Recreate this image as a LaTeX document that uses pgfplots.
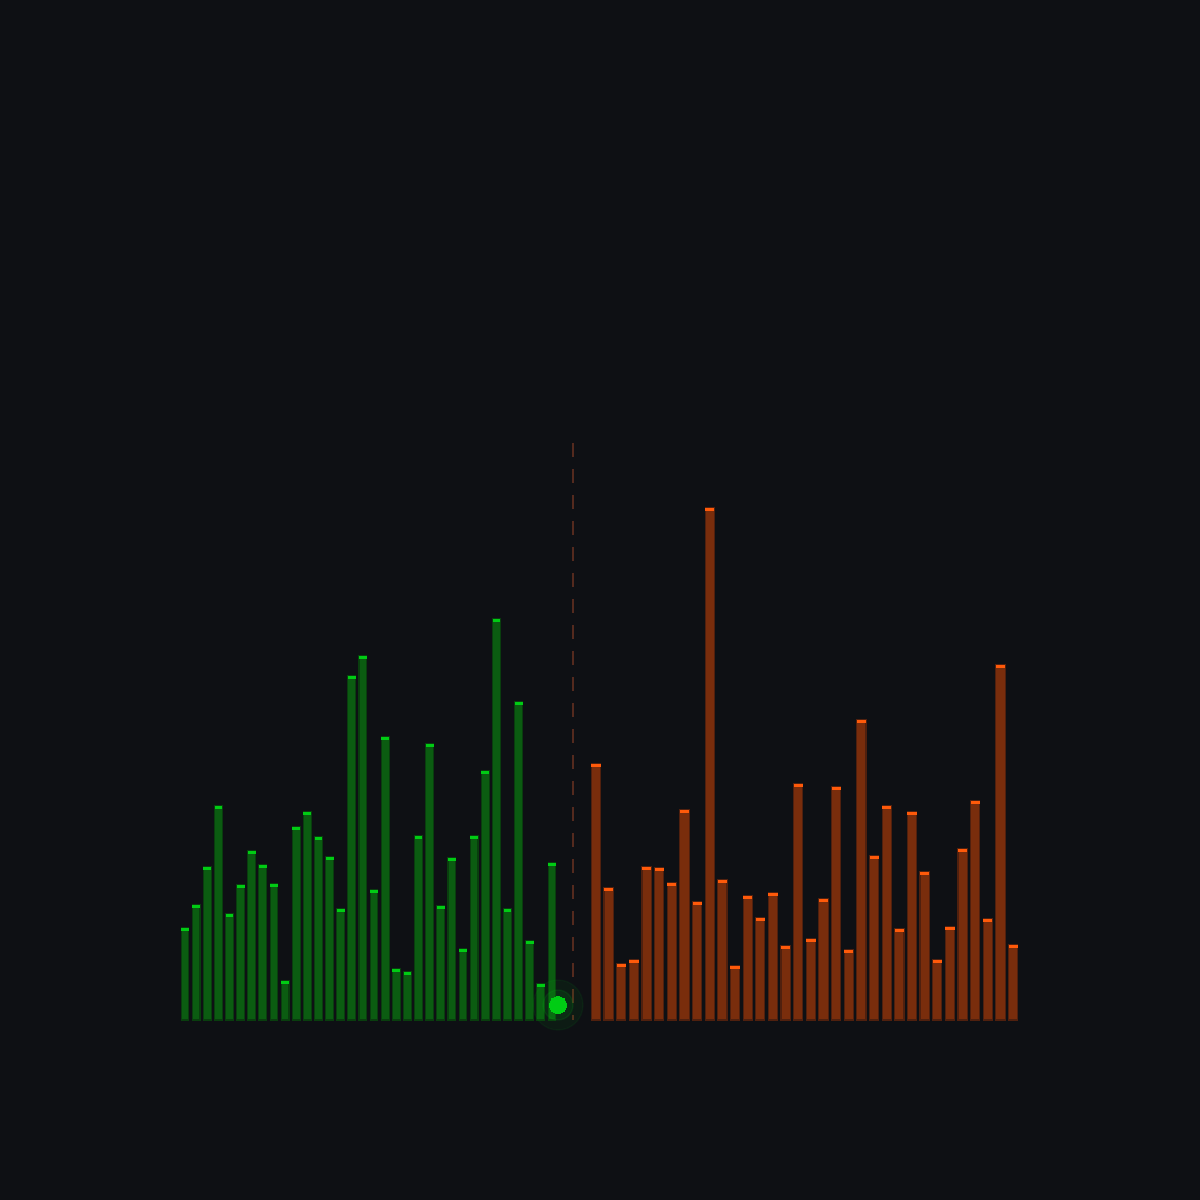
\documentclass[border=0pt]{standalone}
\usepackage{pgfplots}
\usepackage{pgfplotstable}
\pgfplotsset{compat=1.18}

\definecolor{bg}{RGB}{14,16,20}
\definecolor{gfill}{RGB}{11,92,17}
\definecolor{gedge}{RGB}{9,62,14}
\definecolor{gcap}{RGB}{0,204,20}
\definecolor{ofill}{RGB}{121,45,12}
\definecolor{oedge}{RGB}{80,32,14}
\definecolor{ocap}{RGB}{255,90,10}
\definecolor{midline}{RGB}{84,42,30}

% bids: position, size
\pgfplotstableread{
x h
185.0 9.2
196.1 11.5
207.2 15.3
218.4 21.4
229.5 10.6
240.6 13.5
251.7 16.9
262.8 15.5
274.0 13.6
285.1 3.9
296.2 19.3
307.3 20.8
318.4 18.3
329.6 16.3
340.7 11.1
351.8 34.4
362.9 36.4
374.0 13.0
385.2 28.3
396.3 5.1
407.4 4.8
418.5 18.4
429.6 27.6
440.8 11.4
451.9 16.2
463.0 7.1
474.1 18.4
485.2 24.9
496.4 40.1
507.5 11.1
518.6 31.8
529.7 7.9
540.8 3.6
552.0 15.7
}\bids

% asks: position, size
\pgfplotstableread{
x h
596.0 25.6
608.6 13.2
621.3 5.6
633.9 6.0
646.6 15.3
659.2 15.2
671.8 13.7
684.5 21.0
697.1 11.8
709.8 51.2
722.4 14.0
735.0 5.4
747.7 12.4
760.3 10.2
773.0 12.7
785.6 7.4
798.2 23.6
810.9 8.1
823.5 12.1
836.2 23.3
848.8 7.0
861.4 30.0
874.1 16.4
886.7 21.4
899.4 9.1
912.0 20.8
924.6 14.8
937.3 6.0
949.9 9.3
962.6 17.1
975.2 21.9
987.8 10.1
1000.5 35.5
1013.1 7.5
}\asks

\begin{document}
\begin{tikzpicture}
\path[fill=bg, use as bounding box] (0,0) rectangle (12cm,12cm);
\begin{axis}[
    at={(0,0)}, anchor=south west,
    scale only axis, width=12cm, height=12cm,
    xmin=0, xmax=1200, ymin=-18, ymax=102,
    hide axis, clip=false,
    ]
    % bid bars
    \addplot[ybar, bar width=7.8, bar shift=0pt, fill=gfill, draw=gedge, line width=0.3pt]
        table[x=x, y=h] {\bids};
    \addplot[only marks, mark=-, mark size=0.039cm,
        mark options={draw=gcap, line width=0.03cm, yshift=-0.015cm}]
        table[x=x, y=h] {\bids};
    % ask bars
    \addplot[ybar, bar width=9.2, bar shift=0pt, fill=ofill, draw=oedge, line width=0.3pt]
        table[x=x, y=h] {\asks};
    \addplot[only marks, mark=-, mark size=0.046cm,
        mark options={draw=ocap, line width=0.03cm, yshift=-0.015cm}]
        table[x=x, y=h] {\asks};
    % glow round the last price
    \addplot[gcap, only marks, mark=*, mark size=0.25cm,
        mark options={fill=gcap, draw=none, opacity=0.06}] coordinates {(558,1.5)};
    \addplot[gcap, only marks, mark=*, mark size=0.15cm,
        mark options={fill=gcap, draw=none, opacity=0.10}] coordinates {(558,1.5)};
    % mid line
    \addplot[midline, line width=0.3pt, dash pattern=on 0.14cm off 0.12cm]
        coordinates {(573,57.7) (573,0)};
    \addplot[gcap, only marks, mark=*, mark size=0.085cm,
        mark options={fill=gcap, draw=gcap, line width=0pt}] coordinates {(558,1.5)};
\end{axis}
\end{tikzpicture}
\end{document}
